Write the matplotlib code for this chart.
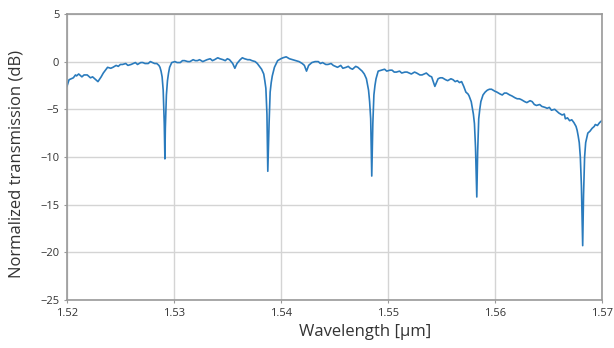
import matplotlib
matplotlib.use("Agg")
import matplotlib.pyplot as plt
import numpy as np

# transmission spectrum of the ring resonator
# wavelength in um, transmission in dB
wavelength = [
    1.5200, 1.5202, 1.5204, 1.5206, 1.5208, 1.5209, 1.5211, 1.5214, 1.5216, 1.5219,
    1.5222, 1.5224, 1.5226, 1.5229, 1.5232, 1.5234,
    1.5236, 1.5238, 1.5241, 1.5243, 1.5246, 1.5248, 1.5250, 1.5252, 1.5255, 1.5257,
    1.5260, 1.5262, 1.5264, 1.5266, 1.5269, 1.5271, 1.5273, 1.5276, 1.5278,
    1.5280, 1.5282, 1.5284, 1.5286, 1.5287,
    # dip 1
    1.5288, 1.5289, 1.5290, 1.5291, 1.52916, 1.5292, 1.5293, 1.5294, 1.5295, 1.5296, 1.5298,
    1.5301, 1.5303, 1.5306, 1.5308, 1.5310, 1.5313, 1.5315, 1.5318, 1.5320, 1.5322,
    1.5324, 1.5327, 1.5329, 1.5331, 1.5334, 1.5336, 1.5338, 1.5341, 1.5343, 1.5346,
    1.5348, 1.5350, 1.5352, 1.5355, 1.5357, 1.5359, 1.5362, 1.5364, 1.5366, 1.5369,
    1.5371, 1.5373, 1.5376, 1.5378, 1.5380, 1.5382,
    # dip 2
    1.5384, 1.5385, 1.5386, 1.5387, 1.53878, 1.5389, 1.5390, 1.5391, 1.5392, 1.5394,
    1.5397, 1.5400, 1.5402, 1.5405, 1.5408, 1.5411, 1.5414, 1.5417, 1.5420, 1.5422,
    1.5424, 1.5426, 1.5429, 1.5432, 1.5435, 1.5437, 1.5439, 1.5442, 1.5444, 1.5447,
    1.5449, 1.5451, 1.5453, 1.5456, 1.5458, 1.5461, 1.5463, 1.5465, 1.5467, 1.5470,
    1.5472, 1.5474, 1.5476, 1.5478,
    # dip 3
    1.5480, 1.5482, 1.5483, 1.5484, 1.5485, 1.5486, 1.5487, 1.5488, 1.5489, 1.5491,
    1.5494, 1.5497, 1.5499, 1.5502, 1.5504, 1.5506, 1.5508, 1.5511, 1.5513, 1.5516,
    1.5518, 1.5520, 1.5522, 1.5525, 1.5527, 1.5530, 1.5532, 1.5534, 1.5536, 1.5539,
    1.5541, 1.5544, 1.5547, 1.5549, 1.5551, 1.5554, 1.5556, 1.5559, 1.5561, 1.5563,
    1.5565, 1.5567, 1.5569, 1.5571, 1.5573, 1.5575, 1.5576,
    # dip 4
    1.5578, 1.5580, 1.5581, 1.5582, 1.55832, 1.5584, 1.5585, 1.5586, 1.5587, 1.5589,
    1.5591, 1.5593, 1.5595, 1.5597, 1.5600, 1.5602, 1.5605, 1.5607, 1.5609, 1.5611,
    1.5614, 1.5616, 1.5619, 1.5621, 1.5623, 1.5625, 1.5628, 1.5630, 1.5633, 1.5635,
    1.5637, 1.5639, 1.5642, 1.5644, 1.5647, 1.5649, 1.5651, 1.5653, 1.5656, 1.5658,
    1.5660, 1.5663, 1.5665, 1.5666, 1.5668, 1.5670, 1.5672, 1.5674, 1.5676, 1.5677,
    # dip 5
    1.5678, 1.5679, 1.5680, 1.5681, 1.56822, 1.5683, 1.5684, 1.5685, 1.5686, 1.5687,
    1.5689, 1.5691, 1.5693, 1.5694, 1.5696, 1.5698, 1.5700,
]
transmission = [
    -2.6, -1.9, -1.8, -1.7, -1.4, -1.5, -1.3, -1.6, -1.4, -1.4,
    -1.7, -1.6, -1.8, -2.1, -1.6, -1.2,
    -0.9, -0.6, -0.7, -0.6, -0.4, -0.5, -0.3, -0.3, -0.2, -0.4,
    -0.3, -0.2, -0.1, -0.3, -0.1, -0.1, -0.2, -0.2, 0.0,
    -0.1, -0.2, -0.2, -0.4, -0.6,
    -1.0, -1.6, -3.0, -6.5, -10.2, -7.0, -3.5, -2.0, -1.2, -0.6, -0.1,
    0.0, -0.1, -0.1, 0.1, 0.1, 0.0, 0.0, 0.2, 0.1, 0.1,
    0.2, 0.0, 0.1, 0.2, 0.3, 0.1, 0.2, 0.4, 0.3, 0.2,
    0.1, 0.3, 0.2, -0.2, -0.7, -0.2, 0.2, 0.4, 0.3, 0.2,
    0.2, 0.1, 0.0, -0.2, -0.5, -0.8,
    -1.3, -2.0, -2.8, -5.5, -11.5, -6.5, -3.2, -2.2, -1.5, -0.6,
    0.1, 0.3, 0.4, 0.5, 0.3, 0.2, 0.1, 0.0, -0.2, -0.4,
    -1.0, -0.4, -0.1, 0.0, 0.0, -0.2, -0.1, -0.3, -0.3, -0.2,
    -0.4, -0.5, -0.6, -0.4, -0.7, -0.6, -0.5, -0.7, -0.8, -0.5,
    -0.6, -0.8, -1.0, -1.3,
    -1.8, -3.0, -4.2, -6.0, -12.0, -6.5, -3.5, -2.5, -1.8, -1.0,
    -0.9, -0.8, -1.0, -0.9, -0.9, -1.1, -1.1, -1.0, -1.2, -1.1,
    -1.1, -1.2, -1.3, -1.1, -1.2, -1.4, -1.4, -1.3, -1.2, -1.5,
    -1.6, -2.6, -1.8, -1.7, -1.7, -1.9, -2.0, -1.8, -1.9, -2.1,
    -2.0, -2.2, -2.1, -2.6, -3.2, -3.4, -3.6,
    -4.2, -5.5, -6.5, -9.0, -14.2, -9.5, -6.0, -5.0, -4.2, -3.5,
    -3.2, -3.0, -2.9, -2.9, -3.1, -3.2, -3.4, -3.5, -3.3, -3.3,
    -3.5, -3.6, -3.8, -3.9, -3.9, -4.0, -4.2, -4.3, -4.1, -4.2,
    -4.5, -4.6, -4.5, -4.7, -4.8, -4.9, -4.8, -5.1, -5.0, -5.2,
    -5.4, -5.6, -5.5, -6.0, -5.9, -6.2, -6.1, -6.4, -6.8, -7.2,
    -7.8, -8.5, -10.0, -13.0, -19.3, -14.0, -10.0, -8.5, -8.0, -7.5,
    -7.3, -7.0, -6.8, -6.6, -6.7, -6.4, -6.2,
]

plt.rcParams['font.family'] = ['Open Sans', 'DejaVu Sans']

fig = plt.figure(figsize=(6.14, 3.48), dpi=100)
ax = fig.add_axes([0.109, 0.138, 0.871, 0.822])

ax.plot(wavelength, transmission, color='#2a7bbd', linewidth=1.2)

ax.set_xlim(1.52, 1.57)
ax.set_ylim(-25, 5)
ax.set_xticks(np.arange(1.52, 1.571, 0.01))
ax.set_xticklabels(['1.52', '1.53', '1.54', '1.55', '1.56', '1.57'])
ax.set_yticks([-25, -20, -15, -10, -5, 0, 5])

ax.grid(True, color='#d4d4d4', linewidth=1.0)
ax.set_axisbelow(True)
for s in ax.spines.values():
    s.set_color('#999999')
    s.set_linewidth(1.2)
ax.tick_params(axis='both', labelsize=8, length=2, color='#999999', labelcolor='#333333')

ax.set_xlabel('Wavelength [µm]', fontsize=12, color='#333333')
ax.set_ylabel('Normalized transmission (dB)', fontsize=12, color='#333333')
# label placement as in the reference (slightly off-centre)
ax.xaxis.set_label_coords(0.557, -0.085)
ax.yaxis.set_label_coords(-0.08, 0.474)

fig.savefig('out.png', dpi=100)
